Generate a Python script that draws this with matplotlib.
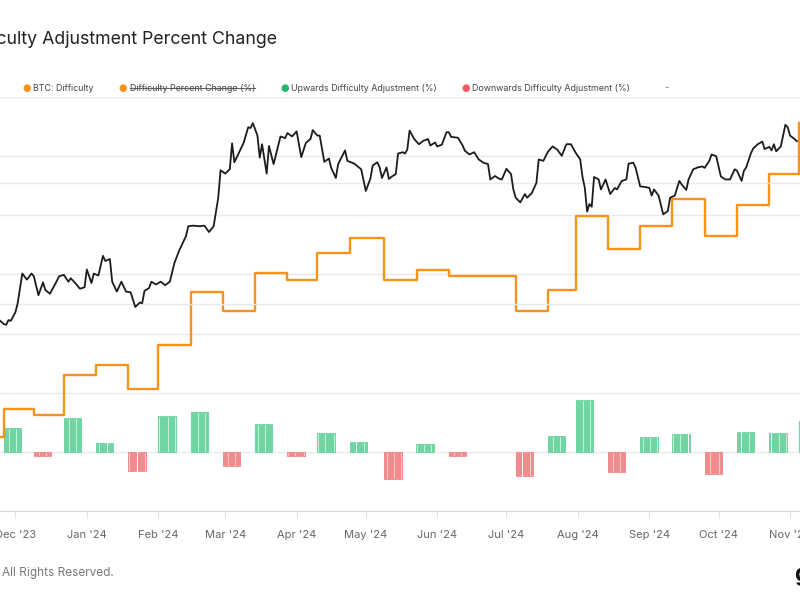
import numpy as np
import pandas as pd
import matplotlib
matplotlib.use("Agg")
from matplotlib import pyplot as plt
import matplotlib.dates as mdates

plt.rcParams['font.family'] = ['Inter', 'DejaVu Sans']

# BTC price (thousand USD)
price_dates = [
    '2023-11-24', '2023-11-26', '2023-11-27', '2023-11-28', '2023-11-29', '2023-12-01', '2023-12-02',
    '2023-12-04', '2023-12-06', '2023-12-08', '2023-12-09', '2023-12-11', '2023-12-13', '2023-12-14',
    '2023-12-16', '2023-12-18', '2023-12-20', '2023-12-22', '2023-12-24', '2023-12-25', '2023-12-27',
    '2023-12-29', '2023-12-31', '2024-01-01', '2024-01-03', '2024-01-04', '2024-01-06', '2024-01-08',
    '2024-01-09', '2024-01-11', '2024-01-12', '2024-01-14', '2024-01-16', '2024-01-18', '2024-01-20',
    '2024-01-22', '2024-01-24', '2024-01-25', '2024-01-26', '2024-01-28', '2024-01-29', '2024-01-31',
    '2024-02-02', '2024-02-04', '2024-02-06', '2024-02-08', '2024-02-10', '2024-02-11', '2024-02-13',
    '2024-02-14', '2024-02-16', '2024-02-19', '2024-02-21', '2024-02-23', '2024-02-25', '2024-02-27',
    '2024-02-28', '2024-03-01', '2024-03-03', '2024-03-04', '2024-03-05', '2024-03-07', '2024-03-09',
    '2024-03-11', '2024-03-12', '2024-03-13', '2024-03-15', '2024-03-16', '2024-03-17', '2024-03-19',
    '2024-03-20', '2024-03-22', '2024-03-25', '2024-03-27', '2024-03-28', '2024-03-30', '2024-04-01',
    '2024-04-03', '2024-04-05', '2024-04-07', '2024-04-08', '2024-04-10', '2024-04-11', '2024-04-13',
    '2024-04-15', '2024-04-16', '2024-04-18', '2024-04-19', '2024-04-20', '2024-04-22', '2024-04-23',
    '2024-04-26', '2024-04-28', '2024-04-29', '2024-05-01', '2024-05-03', '2024-05-04', '2024-05-06',
    '2024-05-07', '2024-05-08', '2024-05-10', '2024-05-11', '2024-05-12', '2024-05-14', '2024-05-15',
    '2024-05-17', '2024-05-18', '2024-05-19', '2024-05-20', '2024-05-22', '2024-05-24', '2024-05-26',
    '2024-05-28', '2024-05-29', '2024-05-31', '2024-06-01', '2024-06-03', '2024-06-05', '2024-06-06',
    '2024-06-07', '2024-06-10', '2024-06-12', '2024-06-13', '2024-06-15', '2024-06-17', '2024-06-19',
    '2024-06-21', '2024-06-23', '2024-06-24', '2024-06-26', '2024-06-28', '2024-06-29', '2024-07-01',
    '2024-07-03', '2024-07-04', '2024-07-05', '2024-07-07', '2024-07-09', '2024-07-10', '2024-07-12',
    '2024-07-14', '2024-07-15', '2024-07-17', '2024-07-19', '2024-07-21', '2024-07-23', '2024-07-25',
    '2024-07-27', '2024-07-29', '2024-07-31', '2024-08-02', '2024-08-03', '2024-08-04', '2024-08-05',
    '2024-08-06', '2024-08-07', '2024-08-08', '2024-08-10', '2024-08-11', '2024-08-13', '2024-08-15',
    '2024-08-17', '2024-08-18', '2024-08-20', '2024-08-22', '2024-08-23', '2024-08-25', '2024-08-26',
    '2024-08-28', '2024-08-30', '2024-09-01', '2024-09-02', '2024-09-03', '2024-09-05', '2024-09-07',
    '2024-09-09', '2024-09-10', '2024-09-12', '2024-09-14', '2024-09-15', '2024-09-17', '2024-09-18',
    '2024-09-20', '2024-09-22', '2024-09-24', '2024-09-25', '2024-09-27', '2024-09-28', '2024-09-30',
    '2024-10-01', '2024-10-02', '2024-10-04', '2024-10-06', '2024-10-08', '2024-10-09', '2024-10-11',
    '2024-10-12', '2024-10-13', '2024-10-15', '2024-10-16', '2024-10-18', '2024-10-20', '2024-10-21',
    '2024-10-23', '2024-10-24', '2024-10-25', '2024-10-26', '2024-10-28', '2024-10-30', '2024-10-31',
    '2024-11-01', '2024-11-03', '2024-11-04',
]
price_k = [
    37.9, 37.4, 37.3, 37.9, 37.8, 38.9, 40.1,
    44.3, 43.4, 44.3, 43.9, 41.2, 43.0, 41.9,
    41.4, 42.6, 43.9, 44.1, 43.1, 43.6, 42.9,
    42.1, 42.3, 44.9, 42.9, 44.3, 44.0, 47.0,
    46.2, 46.5, 43.1, 41.7, 43.1, 41.7, 41.6,
    39.6, 40.2, 40.1, 41.8, 42.2, 43.1, 42.7,
    43.1, 42.6, 43.1, 45.9, 47.8, 48.6, 50.2,
    51.9, 52.0, 51.9, 52.0, 50.9, 51.9, 57.1,
    62.6, 61.9, 62.8, 68.5, 64.3, 66.4, 68.6,
    72.3, 72.1, 73.3, 70.3, 65.3, 68.3, 61.9,
    67.9, 63.9, 70.1, 69.7, 70.9, 70.1, 71.3,
    65.4, 68.6, 69.5, 71.6, 70.3, 70.3, 64.4,
    65.1, 63.1, 61.0, 63.9, 64.9, 66.9, 64.6,
    64.0, 63.2, 62.8, 58.4, 60.9, 63.6, 64.3,
    63.2, 61.0, 63.2, 60.8, 61.2, 61.8, 66.2,
    66.5, 66.2, 67.1, 71.5, 69.5, 68.3, 69.1,
    69.5, 68.0, 68.7, 67.8, 68.2, 71.1, 71.1,
    70.0, 69.8, 68.0, 66.8, 66.0, 66.5, 64.9,
    64.2, 63.9, 60.7, 61.4, 60.8, 60.7, 62.9,
    61.8, 58.7, 57.1, 56.2, 57.8, 57.1, 58.0,
    60.0, 64.9, 64.6, 66.6, 67.8, 67.1, 65.7,
    68.3, 68.3, 66.4, 64.9, 61.2, 59.0, 54.5,
    55.9, 55.4, 61.2, 60.7, 58.7, 60.7, 57.8,
    59.0, 58.7, 60.4, 60.7, 64.0, 64.2, 63.2,
    59.3, 59.2, 59.0, 57.5, 58.7, 57.5, 54.0,
    54.6, 57.1, 57.5, 60.4, 59.7, 58.6, 60.7,
    62.8, 63.2, 63.4, 63.1, 64.6, 66.0, 65.6,
    63.4, 61.3, 60.7, 60.7, 62.8, 62.5, 60.4,
    62.5, 63.2, 66.2, 67.3, 68.3, 68.9, 67.2,
    67.7, 66.9, 68.3, 66.7, 67.8, 72.9, 72.3,
    70.3, 69.5, 69.0,
]

# Difficulty adjustments (difficulty in T, change in %)
start_date = '2023-11-14'
start_difficulty = 64.68
adj_dates = [
    '2023-11-26', '2023-12-09', '2023-12-22', '2024-01-05', '2024-01-19', '2024-02-01', '2024-02-15',
    '2024-02-29', '2024-03-14', '2024-03-28', '2024-04-10', '2024-04-24', '2024-05-09', '2024-05-23',
    '2024-06-06', '2024-07-05', '2024-07-19', '2024-07-31', '2024-08-14', '2024-08-28', '2024-09-11',
    '2024-09-25', '2024-10-09', '2024-10-23', '2024-11-05',
]
difficulty_t = [
    67.96, 67.31, 72.01, 73.20, 70.34, 75.50, 81.73,
    79.50, 83.95, 83.15, 86.39, 88.10, 83.15, 84.38,
    83.68, 79.50, 82.00, 90.67, 86.87, 89.47, 92.67,
    88.40, 92.05, 95.67, 101.65,
]
adj_pct = [
    4.93, -0.80, 6.95, 1.76, -3.84, 7.35, 8.16,
    -2.95, 5.66, -0.93, 3.92, 1.96, -5.52, 1.56,
    -0.81, -4.85, 3.17, 10.50, -4.16, 2.97, 3.58,
    -4.50, 4.04, 3.92, 6.20,
]
bar_days = 8

x_start = pd.Timestamp('2023-11-24 08:00')
x_end = pd.Timestamp('2024-11-05 08:00')

ORANGE = '#f7931a'
GREEN_FACE, GREEN_EDGE = '#c3f0d8', '#5ccf95'
RED_FACE, RED_EDGE = '#fbc9c9', '#f07c7c'
GRID = '#e9e9e9'

fig = plt.figure(figsize=(8, 6), dpi=100)
ax = fig.add_axes([0, 89 / 600, 1, 414 / 600])
ax_diff = ax.twinx()
ax_price = ax.twinx()

# bars: percent change of each adjustment, one thin bar per day
for d, p in zip(pd.to_datetime(adj_dates), adj_pct):
    days = d + pd.to_timedelta(np.arange(bar_days), unit='D') + pd.Timedelta(hours=6)
    face, edge = (GREEN_FACE, GREEN_EDGE) if p > 0 else (RED_FACE, RED_EDGE)
    ax.bar(days, [p] * bar_days, width=0.55, color=face, edgecolor=edge, linewidth=0.6, zorder=2)

ax.set_ylim(-12, 72)
ax.set_yticks(np.arange(-12, 73, 12))
ax.grid(axis='y', color=GRID, linewidth=1, zorder=0)
ax.set_axisbelow(True)

# difficulty step line
steps_x = pd.to_datetime([start_date] + adj_dates)
steps_y = [start_difficulty] + difficulty_t
ax_diff.plot(steps_x, steps_y, drawstyle='steps-post', color=ORANGE, linewidth=1.7)
ax_diff.set_ylim(55.97, 104.71)

# price line
ax_price.plot(pd.to_datetime(price_dates), price_k, color='#1c1c1c', linewidth=1.3)
ax_price.set_yscale('log')
ax_price.set_ylim(20, 80)
ax_price.set_yticks([40, 60])
ax_price.yaxis.set_minor_locator(matplotlib.ticker.NullLocator())
ax_price.grid(axis='y', color=GRID, linewidth=1)

for a in (ax, ax_diff, ax_price):
    a.tick_params(axis='y', which='both', left=False, right=False, labelleft=False, labelright=False)
    for s in a.spines.values():
        s.set_visible(False)
ax.spines['bottom'].set_visible(True)
ax.spines['bottom'].set_color('#dcdcdc')

ax.set_xlim(x_start, x_end)
ax.set_xticks(pd.date_range('2023-12-01', '2024-11-01', freq='MS'))
ax.xaxis.set_major_formatter(mdates.DateFormatter("%b '%y"))
ax.tick_params(axis='x', colors='#e3e3e3', length=5, pad=9, labelsize=8, labelcolor='#666666')

# title and legend
fig.text(277 / 800, 1 - 39 / 600, 'Difficulty Adjustment Percent Change', ha='right', va='center',
         fontsize=12.75, color='#222222')

legend_y = 1 - 88 / 600
items = [
    (27, 33, ORANGE, 'BTC: Difficulty'),
    (123, 130, ORANGE, 'Difficulty Percent Change (%)'),
    (285, 291, '#22b76b', 'Upwards Difficulty Adjustment (%)'),
    (466, 472, '#f05a5f', 'Downwards Difficulty Adjustment (%)'),
]
texts = []
for mx, tx, col, label in items:
    fig.text(mx / 800, legend_y, '\u25CF', color=col, ha='center', va='center', fontsize=7,
             family=['DejaVu Sans'])
    texts.append(fig.text(tx / 800, legend_y, label, ha='left', va='center', fontsize=6.4, color='#444444'))
fig.text(667 / 800, legend_y, '-', ha='center', va='center', fontsize=7, color='#888888')

fig.canvas.draw()
bb = texts[1].get_window_extent().transformed(fig.transFigure.inverted())
ymid = bb.y0 + (bb.y1 - bb.y0) * 0.5
fig.add_artist(plt.Line2D([bb.x0, bb.x1], [ymid, ymid], transform=fig.transFigure,
                          color='#666666', linewidth=0.8))

fig.text(2 / 800, 1 - 573 / 600, 'All Rights Reserved.', ha='left', va='center', fontsize=8.5,
         color='#777777')
fig.text(794 / 800, 1 - 575 / 600, 'g', ha='left', va='center', fontsize=17, fontweight='bold',
         color='#111111')

fig.savefig('out.png', dpi=100)
